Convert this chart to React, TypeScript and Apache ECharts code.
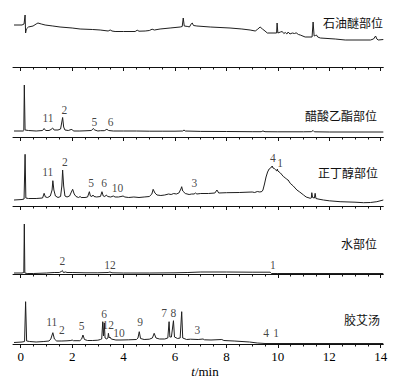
import React, { useEffect, useRef } from "react";
import * as echarts from "echarts";

// ---------- data (retention time t/min, relative response) ----------
const panelNames = ["石油醚部位", "醋酸乙酯部位", "正丁醇部位", "水部位", "胶艾汤"];
const xTickLabels = [0, 2, 4, 6, 8, 10, 12, 14];
const minorTickValues = [0, 0.5, 1, 1.5, 2, 2.5, 3, 3.5, 4, 4.5, 5, 5.5, 6, 6.5, 7, 7.5, 8, 8.5, 9, 9.5, 10, 10.5, 11, 11.5, 12, 12.5, 13, 13.5, 14];

const tracePetroleumEther = [
  [-0.26, 42], [0.05, 42], [0.13, 43], [0.17, 52], [0.19, 34], [0.22, 38], [0.3, 40], [0.48, 41], [0.6, 43], [0.67, 44], [0.8, 43], [0.95, 42],
  [1.25, 41], [1.53, 40], [2.0, 39], [2.31, 38], [2.8, 37.5], [3.09, 37], [3.4, 36], [3.48, 37], [3.55, 36], [3.67, 35.5], [4.0, 35.5],
  [4.25, 35.5], [4.45, 35.5], [4.53, 36.8], [4.6, 35.8], [4.84, 36], [5.0, 36.5], [5.11, 37.8], [5.2, 37], [5.42, 38], [5.81, 39], [6.2, 40],
  [6.28, 40.5], [6.32, 49], [6.36, 41], [6.5, 40.5], [6.56, 40], [6.64, 43.5], [6.67, 44], [6.72, 41.5], [6.85, 41], [7.37, 40], [8.14, 39],
  [8.6, 38], [8.92, 37], [9.12, 36], [9.2, 37.5], [9.31, 40], [9.4, 38], [9.5, 36], [9.59, 34], [9.95, 34], [9.97, 44], [10.0, 34], [10.1, 35],
  [10.17, 35.5], [10.23, 33.5], [10.29, 34.5], [10.35, 33], [10.4, 35], [10.47, 33], [10.56, 34], [10.65, 33.5], [10.71, 34.2], [10.8, 32.5],
  [10.87, 32], [11.06, 30], [11.33, 30], [11.37, 45], [11.41, 31], [11.46, 31.5], [11.5, 32], [11.55, 30], [11.65, 29], [12.23, 28],
  [12.62, 27], [13.6, 27], [13.72, 28], [13.8, 31], [13.85, 28], [13.9, 27], [14.1, 27.5],
];

const traceEthylAcetate = [
  [-0.26, 6], [0.1, 6], [0.12, 6.5], [0.14, 52], [0.17, 7], [0.3, 6.5], [0.6, 6], [0.85, 6.5], [0.91, 8.5], [0.97, 6.5], [1.1, 6.5],
  [1.18, 7.5], [1.24, 9], [1.3, 7], [1.45, 7], [1.55, 8], [1.63, 19.5], [1.67, 10], [1.72, 7], [1.85, 6.5], [1.96, 7.5], [2.0, 7.5],
  [2.05, 6], [2.3, 6], [2.5, 6.2], [2.75, 6.5], [2.82, 8.5], [2.88, 7], [3.0, 6], [3.1, 6.3], [3.25, 6.3], [3.35, 7.7], [3.42, 6.5],
  [3.6, 6], [4.0, 6], [4.5, 6], [5.0, 5.8], [5.5, 5.8], [6.0, 5.8], [6.3, 6], [6.35, 7], [6.4, 6], [7.0, 5.6], [8.0, 5.5], [9.0, 5.3],
  [9.35, 5.3], [9.42, 6], [9.5, 5.3], [10.0, 5.2], [11.0, 5.2], [11.3, 5.3], [11.37, 6.5], [11.42, 5.2], [12.0, 5], [13.0, 5], [14.1, 5],
];

const traceButanol = [
  [-0.26, 6], [0.05, 6.5], [0.13, 7], [0.17, 51.7], [0.2, 8], [0.3, 7.5], [0.6, 7.5], [0.85, 8], [0.91, 12.7], [0.96, 9], [1.05, 8.5],
  [1.15, 10], [1.22, 16], [1.25, 25.3], [1.29, 16], [1.35, 10], [1.45, 8.5], [1.55, 9.5], [1.6, 20], [1.63, 36], [1.67, 20], [1.72, 10],
  [1.8, 9], [1.9, 10], [1.97, 14], [2.02, 16.7], [2.08, 12], [2.15, 9.5], [2.25, 8.5], [2.31, 9.5], [2.35, 8.5], [2.5, 8.5], [2.6, 9],
  [2.67, 14.3], [2.71, 10], [2.77, 9.5], [2.81, 11], [2.85, 9.5], [2.95, 9], [3.1, 9.5], [3.16, 14.3], [3.21, 10], [3.27, 9.5], [3.33, 11],
  [3.38, 9.5], [3.5, 9], [3.6, 10], [3.67, 9], [3.8, 9], [3.9, 9.5], [3.98, 10], [4.05, 9], [4.2, 8.5], [4.4, 9], [4.6, 8.5], [4.8, 9],
  [5.0, 9.5], [5.1, 12], [5.15, 16.7], [5.22, 13], [5.3, 11], [5.45, 10.5], [5.6, 11], [5.75, 12], [5.85, 11.5], [5.95, 12.5], [6.05, 12],
  [6.15, 13], [6.23, 17], [6.26, 19.3], [6.3, 15], [6.4, 12.5], [6.55, 11.5], [6.65, 12], [6.74, 12], [6.8, 13], [6.85, 12], [7.0, 12.5],
  [7.3, 12.5], [7.55, 13], [7.63, 16], [7.7, 13], [8.0, 13.3], [8.5, 13.5], [8.8, 13.8], [9.0, 14], [9.1, 13.5], [9.2, 14.5], [9.3, 14],
  [9.38, 14.5], [9.42, 16], [9.48, 22], [9.54, 29], [9.6, 34], [9.66, 37], [9.72, 38], [9.78, 40], [9.81, 38], [9.86, 37.5], [9.92, 36],
  [9.96, 35], [9.98, 37], [10.0, 35], [10.1, 33], [10.22, 29.3], [10.3, 28], [10.35, 26.5], [10.4, 26], [10.48, 22.7], [10.6, 20],
  [10.74, 16], [10.85, 14], [11.0, 11], [11.1, 9], [11.26, 7.7], [11.3, 8], [11.32, 13.3], [11.35, 8.5], [11.42, 8], [11.45, 12.7],
  [11.48, 7.5], [11.6, 6.8], [11.77, 6], [12.0, 5.2], [12.42, 4.3], [13.0, 3.8], [13.33, 3.3], [13.6, 3.5], [13.85, 4.3], [14.1, 6],
];

const traceWater = [
  [-0.26, 1], [0.05, 1], [0.12, 1.5], [0.14, 50], [0.16, 1], [0.25, 0.5], [0.5, 0.5], [1.0, 1], [1.3, 1.5], [1.5, 1.5], [1.58, 2.5],
  [1.62, 3.5], [1.66, 1.5], [1.75, 2], [1.8, 1.5], [2.0, 1.5], [2.5, 1.2], [3.0, 1.2], [3.4, 1.5], [3.47, 2], [3.55, 1.2], [4.0, 1],
  [5.0, 1], [6.0, 1.2], [6.5, 1.5], [7.0, 2], [8.0, 2], [9.0, 1.8], [9.7, 1.8], [9.75, 0.5], [10.0, 0.5], [14.1, 0.5],
];

const traceDecoction = [
  [-0.26, 1.5], [0.05, 2], [0.15, 2.5], [0.19, 42.3], [0.23, 3], [0.35, 2.5], [0.6, 2], [0.9, 2.5], [1.1, 3], [1.17, 5], [1.25, 11.3],
  [1.31, 5], [1.4, 3], [1.6, 3], [1.8, 3.2], [1.95, 3.5], [2.0, 4], [2.05, 3.3], [2.3, 3.3], [2.37, 5], [2.42, 9], [2.48, 4.5], [2.6, 3.5],
  [2.8, 3.5], [3.0, 3.8], [3.1, 4.5], [3.15, 5], [3.19, 22.3], [3.22, 8], [3.25, 21], [3.28, 6], [3.35, 5], [3.39, 6], [3.41, 10.7],
  [3.44, 6], [3.47, 7], [3.52, 5], [3.7, 4], [3.9, 4], [4.2, 4.2], [4.5, 4.5], [4.56, 6], [4.61, 12.3], [4.66, 5.5], [4.8, 4.5], [5.0, 4.8],
  [5.12, 6], [5.19, 10.7], [5.26, 6], [5.4, 5], [5.6, 5], [5.72, 6], [5.77, 22.3], [5.8, 7], [5.86, 7], [5.94, 23.3], [5.98, 7], [6.1, 5.5],
  [6.2, 6], [6.26, 32.3], [6.3, 6], [6.45, 4.5], [6.6, 4.8], [6.9, 4.5], [7.09, 5], [7.15, 4.2], [7.4, 4], [7.82, 4.5], [7.9, 3.5],
  [8.3, 3], [8.9, 2], [9.2, 1], [9.5, 0.5], [14.1, 0.5],
];

// peak numbers: [label, t, height]
const peaksPetroleumEther: [string, number, number][] = [];
const peaksEthylAcetate: [string, number, number][] = [["11", 1.06, 19], ["2", 1.7, 27], ["5", 2.86, 15], ["6", 3.5, 15]];
const peaksButanol: [string, number, number][] = [
  ["11", 1.05, 34.3], ["2", 1.72, 44.3], ["5", 2.74, 23.3], ["6", 3.24, 23.3], ["10", 3.76, 17.7], ["3", 6.75, 23.3], ["4", 9.81, 47.7], ["1", 10.09, 43.3],
];
const peaksWater: [string, number, number][] = [["2", 1.62, 13.3], ["12", 3.47, 9], ["1", 9.81, 9]];
const peaksDecoction: [string, number, number][] = [
  ["11", 1.21, 22], ["2", 1.6, 14], ["5", 2.37, 18], ["6", 3.24, 30.5], ["12", 3.4, 19.5], ["10", 3.82, 11], ["9", 4.64, 21.7],
  ["7", 5.58, 30.7], ["8", 5.94, 30.7], ["3", 6.87, 14], ["4", 9.54, 11.3], ["1", 9.93, 11.3],
];

const traces = [tracePetroleumEther, traceEthylAcetate, traceButanol, traceWater, traceDecoction];
const peakSets = [peaksPetroleumEther, peaksEthylAcetate, peaksButanol, peaksWater, peaksDecoction];

// ---------- layout ----------
const W = 394;
const H = 381;
const axisLineY = [67, 137, 206, 274, 344];
const panelH = 60;
const nameRight = [383, 377, 378, 377, 380];
const nameY = [22, 115, 172, 243, 319];
const SERIF = '"Liberation Serif", "Times New Roman", serif';
const CJK = '"Noto Sans CJK SC", sans-serif';

export default function App() {
  const ref = useRef<HTMLDivElement>(null);
  useEffect(() => {
    if (!ref.current) return;
    const chart = echarts.init(ref.current, undefined, { renderer: "svg" });
    const grids: any[] = [];
    const xAxes: any[] = [];
    const yAxes: any[] = [];
    const series: any[] = [];
    axisLineY.forEach((ay, i) => {
      grids.push({ left: 13, right: 10.7, top: ay - panelH, height: panelH });
      const isLast = i === axisLineY.length - 1;
      xAxes.push({
        type: "value", gridIndex: i, min: -0.3, max: 14.1, position: "bottom",
        axisLine: { show: true, onZero: false, lineStyle: { color: "#111", width: 1 } },
        axisTick: { show: true, customValues: xTickLabels, length: 4, inside: false, lineStyle: { color: "#111", width: 1 } },
        axisLabel: {
          show: isLast, customValues: xTickLabels, margin: 6, color: "#000", fontFamily: SERIF, fontSize: 13,
        },
        splitLine: { show: false },
      });
      xAxes.push({
        type: "value", gridIndex: i, min: -0.3, max: 14.1, position: "bottom",
        axisLine: { show: false },
        axisTick: { show: true, customValues: minorTickValues, length: 2.5, inside: false, lineStyle: { color: "#111", width: 1 } },
        axisLabel: { show: false },
        splitLine: { show: false },
      });
      yAxes.push({ type: "value", gridIndex: i, min: 0, max: panelH, show: false });
      series.push({
        type: "line", xAxisIndex: i * 2, yAxisIndex: i, data: traces[i], showSymbol: false, symbol: "none",
        lineStyle: { color: "#1f1f1f", width: 1 }, silent: true, z: 3,
      });
      series.push({
        type: "scatter", xAxisIndex: i * 2, yAxisIndex: i, symbolSize: 0,
        itemStyle: { color: "#000" },
        data: peakSets[i].map((p) => ({ name: p[0], value: [p[1], p[2]] })),
        label: {
          show: true, position: [0, 0], align: "center", verticalAlign: "middle", formatter: "{b}",
          color: "#111", fontFamily: SERIF, fontSize: 11.5,
        },
        silent: true, z: 4,
      });
    });
    const graphics: any[] = panelNames.map((n, i) => ({
      type: "text",
      style: {
        text: n, x: nameRight[i], y: nameY[i], textAlign: "right", textVerticalAlign: "middle",
        fontFamily: CJK, fontSize: 12, fill: "#111",
      },
    }));
    graphics.push({
      type: "text",
      style: {
        text: "{i|t}/min", x: 205, y: 371, textAlign: "center", textVerticalAlign: "middle",
        fontFamily: SERIF, fontSize: 13, fill: "#000",
        rich: { i: { fontStyle: "italic", fontFamily: SERIF, fontSize: 13 } },
      },
    });
    chart.setOption({
      animation: false,
      backgroundColor: "#fff",
      grid: grids,
      xAxis: xAxes,
      yAxis: yAxes,
      series,
      graphic: graphics,
    });
    return () => chart.dispose();
  }, []);
  return <div ref={ref} style={{ position: "fixed", left: 0, top: 0, width: W, height: H }} />;
}
